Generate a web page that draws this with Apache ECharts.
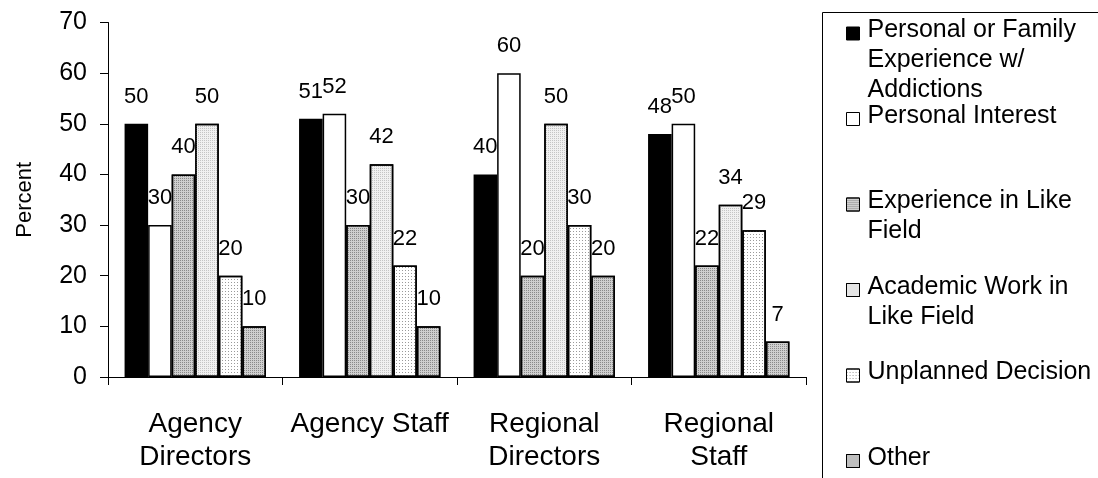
<!DOCTYPE html>
<html>
<head>
<meta charset="utf-8">
<script src="https://cdn.jsdelivr.net/npm/echarts@6/dist/echarts.min.js"></script>
<style>
  html, body { margin: 0; padding: 0; background: #fff; }
  #chart { width: 1098px; height: 478px; }
</style>
</head>
<body>
<div id="chart"></div>
<script>
// Reasons for entering the field, by respondent group (percent)
const categories = ['Agency\nDirectors', 'Agency Staff', 'Regional\nDirectors', 'Regional\nStaff'];
const seriesNames = [
  'Personal or Family\nExperience w/\nAddictions',
  'Personal Interest',
  'Experience in Like\nField',
  'Academic Work in\nLike Field',
  'Unplanned Decision',
  'Other'
];
const personalFamily = [50, 51, 40, 48];
const personalInterest = [30, 52, 60, 50];
const likeFieldExperience = [40, 30, 20, 22];
const academicWork = [50, 42, 50, 34];
const unplanned = [20, 22, 30, 29];
const other = [10, 10, 20, 7];
const yTicks = [0, 10, 20, 30, 40, 50, 60, 70];

const FONT = '"Liberation Sans", Arial, sans-serif';

// Fill + fine stipple texture for each series
const fills = [
  { color: '#000000', decal: null },
  { color: '#ffffff', decal: null },
  { color: '#cfcfcf', decal: { symbol: 'rect', symbolSize: 1, color: '#8a8a8a', dashArrayX: [1, 1], dashArrayY: [1, 1], rotation: 0 } },
  { color: '#f0f0f0', decal: { symbol: 'rect', symbolSize: 1, color: '#c4c4c4', dashArrayX: [1, 1], dashArrayY: [1, 1], rotation: 0 } },
  { color: '#ffffff', decal: { symbol: 'rect', symbolSize: 1, color: '#9a9a9a', dashArrayX: [1, 2], dashArrayY: [1, 2], rotation: 0 } },
  { color: '#cfcfcf', decal: { symbol: 'rect', symbolSize: 1, color: '#8a8a8a', dashArrayX: [1, 1], dashArrayY: [1, 1], rotation: 0 } }
];
const values = [personalFamily, personalInterest, likeFieldExperience, academicWork, unplanned, other];

const chart = echarts.init(document.getElementById('chart'), null, { renderer: 'canvas' });

const series = seriesNames.map((name, i) => {
  const style = { color: fills[i].color, borderColor: '#000', borderWidth: 1.5 };
  if (fills[i].decal) style.decal = fills[i].decal;
  return {
    name: name,
    type: 'bar',
    data: values[i],
    barGap: '0%',
    barCategoryGap: '19%',
    itemStyle: style,
    label: {
      show: true,
      position: 'top',
      distance: 16,
      color: '#000',
      fontFamily: FONT,
      fontSize: 22
    },
    emphasis: { disabled: true },
    animation: false
  };
});

// One legend block per series so that each swatch sits beside the
// first line of its (possibly multi-line) caption. Rich text is used so
// the top padding actually pushes the caption lines down.
const LEGEND_LH = 30;
const LEGEND_ICON_Y = [33.5, 119, 204.5, 290, 375.5, 461];
const ICON_TEXT_SHIFT = 3;   // caption's first line sits slightly above the swatch centre
const LINE_BOX_INSET = 2.5;  // glyph box top vs. line box top
const legends = seriesNames.map((name, i) => {
  const lines = name.split('\n').length;
  // padTop - padBottom = (lines - 1) * lh - 2 * shift keeps line 1 beside the swatch
  const diff = (lines - 1) * LEGEND_LH - 2 * ICON_TEXT_SHIFT;
  const padTop = Math.max(diff, 0);
  const padBottom = Math.max(-diff, 0);
  // the legend box is placed by the top of its first caption line
  const firstLineCenter = LEGEND_ICON_Y[i] - ICON_TEXT_SHIFT;
  return {
    orient: 'vertical',
    left: 846,
    top: firstLineCenter - LEGEND_LH / 2 + LINE_BOX_INSET,
    padding: 0,
    itemWidth: 13,
    itemHeight: 13,
    icon: 'rect',
    itemStyle: { borderColor: '#000', borderWidth: 1 },
    selectedMode: false,
    formatter: (n) => n.split('\n').map((l) => '{t|' + l + '}').join('\n'),
    textStyle: {
      color: '#000',
      padding: [padTop, 0, padBottom, 3],
      rich: {
        t: { fontFamily: FONT, fontSize: 25, color: '#000', lineHeight: LEGEND_LH }
      }
    },
    data: [name]
  };
});

chart.setOption({
  backgroundColor: '#fff',
  animation: false,
  grid: { left: 108, right: 292, top: 22.5, bottom: 101, containLabel: false },
  legend: legends,
  graphic: [{
    type: 'rect',
    silent: true,
    z: -1,
    shape: { x: 822.5, y: 12.5, width: 400, height: 600 },
    style: { fill: null, stroke: '#000', lineWidth: 1 }
  }],
  xAxis: {
    type: 'category',
    data: categories,
    axisLine: { show: true, lineStyle: { color: '#000', width: 1 } },
    axisTick: { show: true, alignWithLabel: false, length: 8, lineStyle: { color: '#000' } },
    axisLabel: {
      color: '#000',
      fontFamily: FONT,
      fontSize: 28,
      lineHeight: 33,
      margin: 31,
      interval: 0
    },
    splitLine: { show: false }
  },
  yAxis: {
    type: 'value',
    min: yTicks[0],
    max: yTicks[yTicks.length - 1],
    interval: 10,
    name: 'Percent',
    nameLocation: 'middle',
    nameRotate: 90,
    nameGap: 72,
    nameTextStyle: { color: '#000', fontFamily: FONT, fontSize: 22 },
    axisLine: { show: true, lineStyle: { color: '#000', width: 1 } },
    axisTick: { show: true, length: 8, lineStyle: { color: '#000' } },
    axisLabel: { color: '#000', fontFamily: FONT, fontSize: 25, margin: 21 },
    splitLine: { show: false }
  },
  series: series
});
</script>
</body>
</html>
